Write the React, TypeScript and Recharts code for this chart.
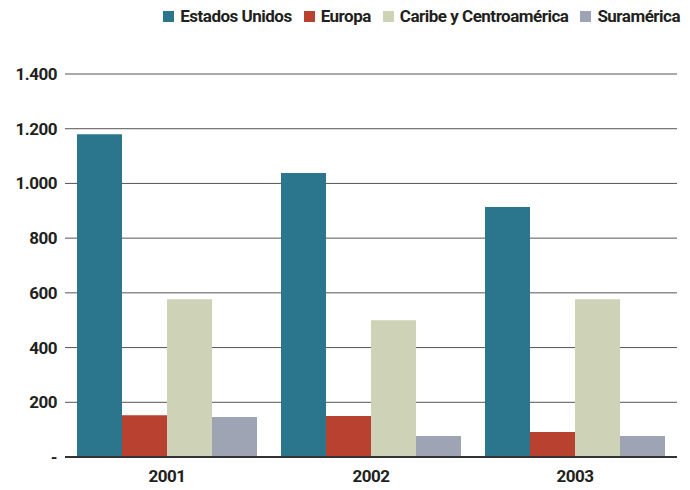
import { BarChart, Bar, XAxis, YAxis, CartesianGrid } from "recharts";

const years = ["2001", "2002", "2003"];
const estadosUnidos = [1180, 1038, 914];
const europa = [153, 150, 91];
const caribe = [577, 500, 577];
const suramerica = [146, 77, 77];
const yTicks = [0, 200, 400, 600, 800, 1000, 1200, 1400];

const series = [
  { key: "eu", label: "Estados Unidos", color: "#2c768d" },
  { key: "europa", label: "Europa", color: "#b8412f" },
  { key: "caribe", label: "Caribe y Centroamérica", color: "#ced2b6" },
  { key: "sur", label: "Suramérica", color: "#9ea4b3" },
];

const data = years.map((y, i) => ({
  year: y,
  eu: estadosUnidos[i],
  europa: europa[i],
  caribe: caribe[i],
  sur: suramerica[i],
}));

const FONT = "Roboto, sans-serif";
const INK = "#231f20";
const tickStyle = {
  fontFamily: FONT,
  fontWeight: 700,
  fontSize: 17,
  fill: INK,
  letterSpacing: -0.5,
};

const fmt = (v: number) =>
  v === 0 ? "-" : v.toString().replace(/\B(?=(\d{3})+(?!\d))/g, ".");

export default function App() {
  return (
    <div style={{ position: "absolute", left: 0, top: 0, width: 690, height: 490, background: "#fff" }}>
      <div
        style={{
          position: "absolute",
          top: 6,
          right: 10,
          display: "flex",
          gap: 12,
          zIndex: 2,
        }}
      >
        {series.map((s) => (
          <div key={s.key} style={{ display: "flex", alignItems: "center", gap: 6 }}>
            <span style={{ width: 11, height: 11, background: s.color, display: "inline-block" }} />
            <span
              style={{
                fontFamily: FONT,
                fontWeight: 700,
                fontSize: 17,
                letterSpacing: -0.5,
                color: INK,
              }}
            >
              {s.label}
            </span>
          </div>
        ))}
      </div>
      <BarChart
        width={690}
        height={490}
        data={data}
        margin={{ top: 74, right: 13, bottom: 3, left: 0 }}
        barGap={0}
        barCategoryGap={12}
      >
        <CartesianGrid vertical={false} stroke="#555" strokeWidth={1} />
        <XAxis
          dataKey="year"
          height={30}
          tickLine={false}
          axisLine={{ stroke: "#333", strokeWidth: 2 }}
          tick={{ ...tickStyle, dy: 5 }}
        />
        <YAxis
          width={65}
          domain={[0, 1400]}
          ticks={yTicks}
          tickFormatter={fmt}
          axisLine={false}
          tickLine={false}
          interval={0}
          tick={tickStyle}
        />
        {series.map((s) => (
          <Bar key={s.key} dataKey={s.key} name={s.label} fill={s.color} isAnimationActive={false} />
        ))}
      </BarChart>
    </div>
  );
}
